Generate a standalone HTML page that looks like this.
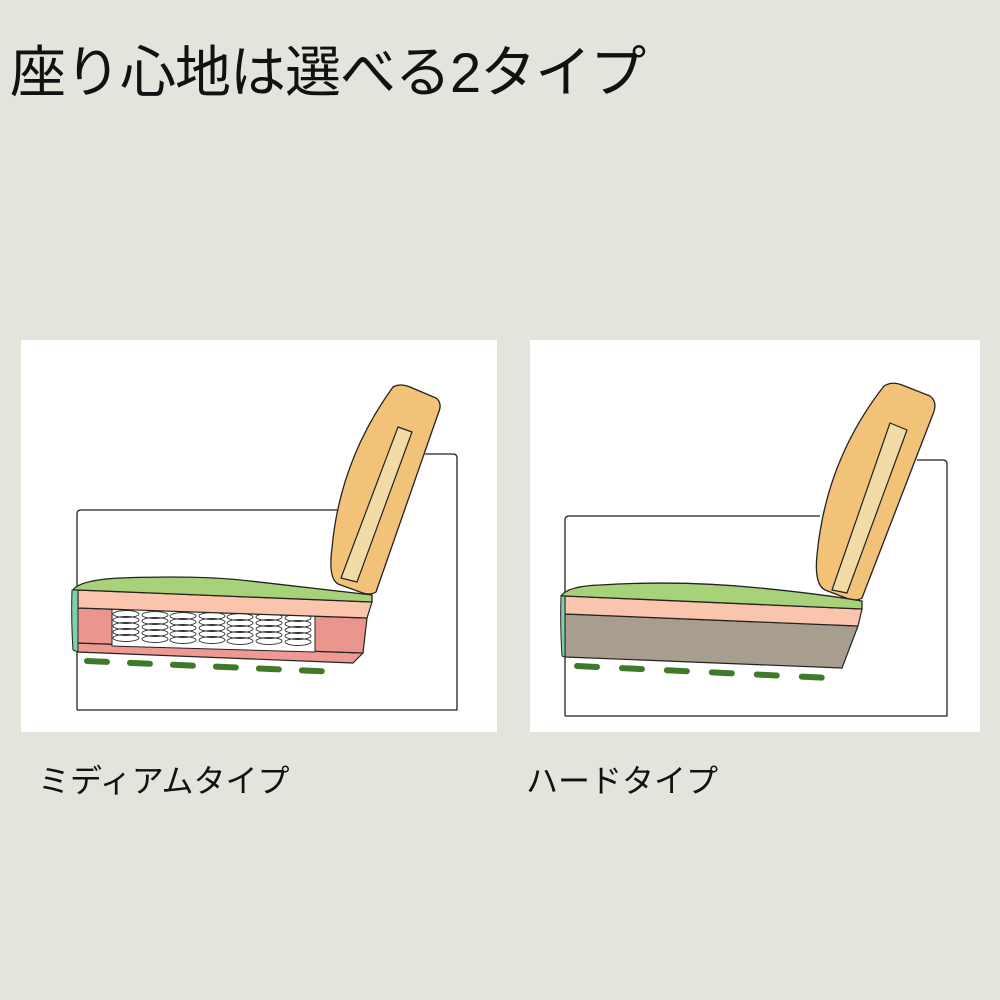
<!DOCTYPE html>
<html><head><meta charset="utf-8"><style>
body{margin:0;width:1000px;height:1000px;background:#e4e3dc;position:relative;overflow:hidden;font-family:"Liberation Sans","Noto Sans CJK JP",sans-serif;}
.t{position:absolute;left:10px;top:28px;font-size:56px;color:#111;white-space:nowrap;letter-spacing:-1px}
.l{position:absolute;font-size:32px;color:#111;white-space:nowrap}
svg{position:absolute;left:0;top:0}
</style></head><body>
<div class="t">座り心地は選べる2タイプ</div>
<svg width="1000" height="1000" stroke-linejoin="round">
<rect x="21" y="340" width="476" height="392" fill="#fff"/>
<rect x="530" y="340" width="450" height="392" fill="#fff"/>
<g stroke="#222" stroke-width="1.3" fill="none">
<path d="M77,710 V514 q0,-4 4,-4 H340 M425,454 H453 q4,0 4,4 V710 H77"/>
</g>
<path d="M393,387 Q400,383 410,387 L436,398 Q443,403 438,414 L376,592 Q370,596 360,592 L338,584 Q328,578 332,548 Q340,460 393,387Z" fill="#f2c279" stroke="#222" stroke-width="1.3"/>
<path d="M398,427 L412,432 L357,582 L341,578Z" fill="#f3dba7" stroke="#222" stroke-width="1.2"/>
<path d="M77,652 L353,663 L363,653 L77,643Z" fill="#ee9a92" stroke="#222" stroke-width="1.2"/>
<path d="M78,608 L367,618 L363,653 L77,643Z" fill="#ea958e" stroke="#222" stroke-width="1.2"/>
<path d="M112,609 L315,614 L315,652 L112,646Z" fill="#fff" stroke="#222" stroke-width="1"/>
<g fill="none" stroke="#333" stroke-width="0.9">
<g id="sp"><ellipse cx="126" cy="614" rx="13" ry="3.5"/><ellipse cx="126" cy="620" rx="13" ry="3.5"/><ellipse cx="126" cy="626" rx="13" ry="3.5"/><ellipse cx="126" cy="632" rx="13" ry="3.5"/><ellipse cx="126" cy="638" rx="13" ry="3.5"/></g>
<use href="#sp" x="29" y="1"/><use href="#sp" x="57" y="2"/><use href="#sp" x="86" y="2"/><use href="#sp" x="114" y="3"/><use href="#sp" x="143" y="3"/><use href="#sp" x="172" y="4"/>
</g>
<path d="M78,590 L372,602 L367,618 L78,608Z" fill="#fbc5ad" stroke="#222" stroke-width="1.2"/>
<path d="M73,590 Q80,580 120,578 Q200,575 250,581 L372,595 L372,602 L78,590Z" fill="#a8d27a" stroke="#222" stroke-width="1.3"/>
<path d="M72,590 L78,590 L78,652 L73,650 Q71,620 72,590Z" fill="#7fcfa8" stroke="#222" stroke-width="1"/>
<line x1="87" y1="661" x2="340" y2="672" stroke="#3f7a2b" stroke-width="6" stroke-linecap="round" stroke-dasharray="20 23"/>
<g stroke="#222" stroke-width="1.3" fill="none">
<path d="M565,716 V520 q0,-4 4,-4 H820 M917,460 H943 q4,0 4,4 V716 H565"/>
</g>
<path d="M884,386 Q892,381 902,385 L930,396 Q938,402 933,414 L862,598 Q856,602 846,598 L825,590 Q814,584 817,555 Q826,460 884,386Z" fill="#f2c279" stroke="#222" stroke-width="1.3"/>
<path d="M890,423 L907,430 L847,593 L832,590Z" fill="#f3dba7" stroke="#222" stroke-width="1.2"/>
<path d="M565,614 L858,626 L842,668 L565,657Z" fill="#a89e90" stroke="#222" stroke-width="1.2"/>
<path d="M565,596 L862,609 L858,626 L565,614Z" fill="#fbc5ad" stroke="#222" stroke-width="1.2"/>
<path d="M561,596 Q568,586 600,585 Q680,580 760,588 Q820,594 862,601 L862,609 L565,596Z" fill="#a8d27a" stroke="#222" stroke-width="1.3"/>
<path d="M561,596 L565,596 L565,657 L562,656 Q560,625 561,596Z" fill="#7fcfa8" stroke="#222" stroke-width="1"/>
<line x1="577" y1="666" x2="830" y2="678" stroke="#3f7a2b" stroke-width="6" stroke-linecap="round" stroke-dasharray="20 25"/>
</svg>
<div class="l" style="left:38px;top:756px">ミディアムタイプ</div>
<div class="l" style="left:526px;top:756px">ハードタイプ</div>
</body></html>
